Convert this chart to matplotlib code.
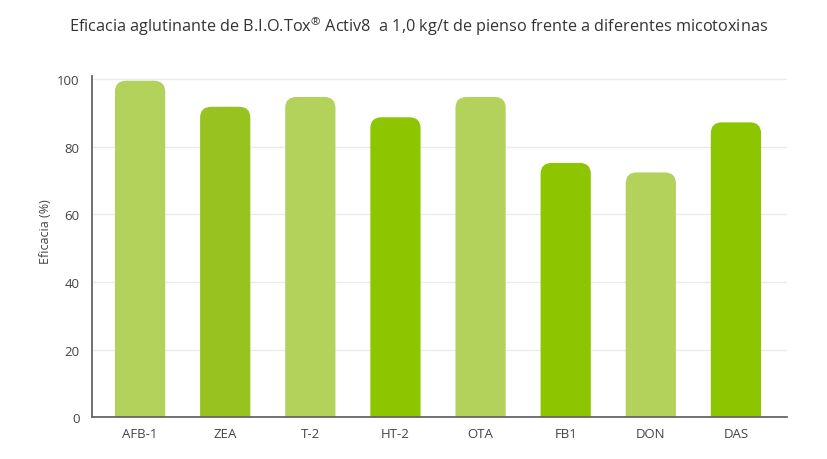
import matplotlib
matplotlib.use("Agg")
import matplotlib.pyplot as plt
from matplotlib.patches import FancyBboxPatch

categories = ["AFB-1", "ZEA", "T-2", "HT-2", "OTA", "FB1", "DON", "DAS"]
values = [99.5, 91.8, 94.7, 88.7, 94.7, 75.2, 72.4, 87.2]
colors = ["#b2d25c", "#98c21f", "#b2d25c", "#8dc500", "#b2d25c", "#8dc500", "#b2d25c", "#8dc500"]
yticks = [0, 20, 40, 60, 80, 100]
title = "Eficacia aglutinante de B.I.O.Tox$^{\u00ae}$ Activ8  a 1,0 kg/t de pienso frente a diferentes micotoxinas"
ylabel = "Eficacia (%)"

plt.rcParams['font.family'] = ['Open Sans', 'DejaVu Sans']
plt.rcParams['mathtext.fontset'] = 'custom'
plt.rcParams['mathtext.rm'] = 'Open Sans'
plt.rcParams['mathtext.it'] = 'Open Sans'
plt.rcParams['mathtext.default'] = 'regular'

W, H = 828, 460
fig = plt.figure(figsize=(W / 100, H / 100), dpi=100)
left, right, bottom, top = 92, 787, 418.4, 77
ax = fig.add_axes([left / W, 1 - bottom / H, (right - left) / W, (bottom - top) / H])

xlim = (-0.565, 7.6)
ylim = (0, 100.9)
ax.set_xlim(*xlim)
ax.set_ylim(*ylim)

bw = 0.59
px_x = (right - left) / (xlim[1] - xlim[0])
px_y = (bottom - top) / (ylim[1] - ylim[0])
r_px = 11
r = r_px / px_x
aspect = (r_px / px_y) / r

for i, (v, c) in enumerate(zip(values, colors)):
    base = -10
    p = FancyBboxPatch((i - bw / 2, base), bw, v - base,
                       boxstyle=f"round,pad=0,rounding_size={r}",
                       mutation_aspect=aspect, facecolor=c, edgecolor="none", zorder=3)
    ax.add_patch(p)

ax.set_xticks(range(len(categories)))
ax.set_xticklabels(categories, fontsize=9.5, color="#444444")
ax.set_yticks(yticks)
ax.set_yticklabels([str(t) for t in yticks], fontsize=9.5, color="#444444")
ax.tick_params(axis="both", length=0)
ax.tick_params(axis="x", pad=7)
ax.tick_params(axis="y", pad=9)

ax.grid(axis="y", color="#ebebeb", linewidth=1, zorder=0)
ax.set_axisbelow(True)
for s in ["top", "right"]:
    ax.spines[s].set_visible(False)
for s in ["left", "bottom"]:
    ax.spines[s].set_color("#666666")
    ax.spines[s].set_linewidth(1.3)
    ax.spines[s].set_zorder(4)

ax.set_ylabel(ylabel, fontsize=9, color="#444444")
ax.yaxis.set_label_coords(-0.058, 0.546)
fig.text(419 / W, 1 - 27 / H, title, ha="center", va="center", fontsize=11.7, color="#333333")

fig.savefig("out.png", dpi=100)
